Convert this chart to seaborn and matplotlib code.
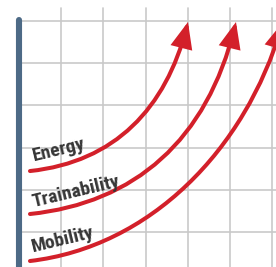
import matplotlib

matplotlib.use("Agg")

import matplotlib.pyplot as plt
import seaborn as sns
from matplotlib.patches import FancyArrowPatch
from matplotlib.path import Path

# grid units: one cell of the background grid = 1
# each curve: start, two bezier handles, arrow tip
energy_x = [0.267, 2.277, 3.482, 4.002]
energy_y = [1.445, 1.659, 2.938, 4.976]

train_x = [0.267, 2.749, 4.452, 5.137]
train_y = [0.427, 0.687, 2.180, 4.976]

mobility_x = [0.267, 3.104, 5.350, 6.248]
mobility_y = [-0.687, -0.355, 1.943, 4.976]

labels = ["Energy", "Trainability", "Mobility"]
label_x = [0.36, 0.34, 0.34]
label_y = [1.68, 0.59, -0.47]

grid_cols = [1, 2, 3, 4, 5, 6]
grid_rows = [0, 1, 2, 3, 4, 5]

RED = "#d3202a"
GRID = "#c9c9c9"
BAR = "#4d6a86"
TEXT = "#363636"

sns.set_style("white")
plt.rcParams["font.family"] = [
    "Roboto Condensed", "Open Sans Condensed", "Liberation Sans Narrow",
    "DejaVu Sans Condensed", "Roboto", "DejaVu Sans",
]

fig = plt.figure(figsize=(2.76, 2.67), dpi=100)
ax = fig.add_axes([0, 0, 1, 1])
ax.set_xlim(-0.442, 6.083)
ax.set_ylim(-0.829, 5.498)
ax.axis("off")

for gx in grid_cols:
    ax.plot([gx, gx], [-0.9, 5.31], color=GRID, lw=1.2, zorder=1)
for gy in grid_rows:
    ax.plot([0, 6.2], [gy, gy], color=GRID, lw=1.2, zorder=1)

ax.plot([0, 0], [-0.9, 5.02], color=BAR, lw=4.4, solid_capstyle="round", zorder=2)

codes = [Path.MOVETO, Path.CURVE4, Path.CURVE4, Path.CURVE4]
for xs, ys in [(energy_x, energy_y), (train_x, train_y), (mobility_x, mobility_y)]:
    curve = Path(list(zip(xs, ys)), codes)
    arrow = FancyArrowPatch(path=curve,
                            arrowstyle="-|>,head_length=1.0,head_width=0.42",
                            mutation_scale=14, color=RED, lw=2.9,
                            capstyle="round", joinstyle="miter", zorder=3)
    ax.add_patch(arrow)

for text, lx, ly in zip(labels, label_x, label_y):
    ax.text(lx, ly, text, rotation=13.5, rotation_mode="anchor", ha="left",
            va="baseline", fontsize=14, fontweight="bold", fontstretch="condensed",
            color=TEXT, zorder=4)

fig.savefig("out.png", dpi=100)
